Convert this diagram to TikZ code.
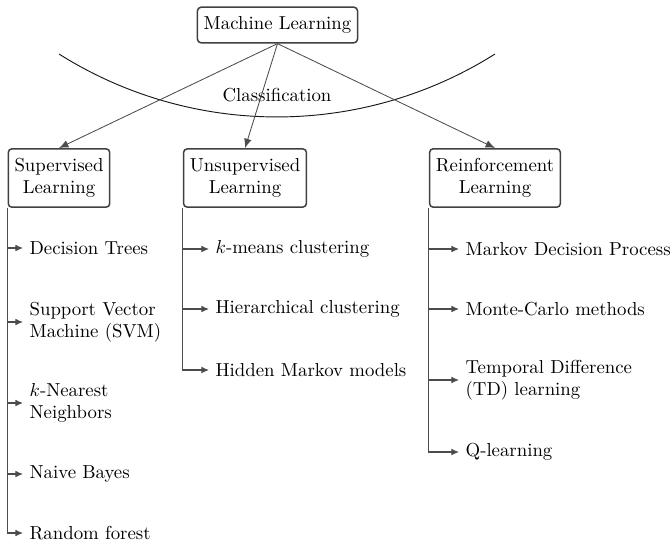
\documentclass[tikz,border=0pt]{standalone}
\usetikzlibrary{arrows.meta}
\begin{document}
\begin{tikzpicture}[x=0.532pt,y=-0.532pt,
  box/.style={draw=black!75, thick, rounded corners=2pt, align=center, inner xsep=3.33pt, inner ysep=5pt},
  leaf/.style={anchor=west, align=left, inner sep=3.33pt},
  mainarrow/.style={draw=black!70, line width=0.45pt, -{Latex[length=5pt,width=4pt]}},
  subarrow/.style={draw=black!70, line width=0.55pt, -{Latex[length=4pt,width=3.5pt]}},
  arcline/.style={draw=black!90, line width=0.5pt}
]
\clip (0,0) rectangle (670,543);
% top node and category boxes
\node[box] (ml) at (277.5,25) {Machine Learning};
\node[box] (sup) at (59,178) {Supervised\\Learning};
\node[box] (uns) at (245,178) {Unsupervised\\Learning};
\node[box] (rei) at (495,178) {Reinforcement\\Learning};
% classification arc
\coordinate (arcL) at (59,54);
\coordinate (arcR) at (495,54);
\draw[arcline] (arcL) .. controls (192.1,137.9) and (361.9,137.9) .. (arcR);
\node (cls) at (277,95) {Classification};
% main connectors
\draw[mainarrow] (ml.south) -- (sup.north);
\draw[mainarrow] (ml.south) -- (uns.north);
\draw[mainarrow] (ml.south) -- (rei.north);
% supervised leaves
\node[leaf] (s1) at (23,248) {Decision Trees};
\node[leaf] (s2) at (23,322) {Support Vector\\Machine (SVM)};
\node[leaf] (s3) at (23,403) {$k$-Nearest\\Neighbors};
\node[leaf] (s4) at (23,474) {Naive Bayes};
\node[leaf] (s5) at (23,533) {Random forest};
% unsupervised leaves
\node[leaf] (u1) at (209,249) {$k$-means clustering};
\node[leaf] (u2) at (209,309) {Hierarchical clustering};
\node[leaf] (u3) at (209,370) {Hidden Markov models};
% reinforcement leaves
\node[leaf] (r1) at (459,249) {Markov Decision Process};
\node[leaf] (r2) at (459,309) {Monte-Carlo methods};
\node[leaf] (r3) at (459,380) {Temporal Difference\\(TD) learning};
\node[leaf] (r4) at (459,452) {Q-learning};
% leaf connectors
\foreach \c in {s1,s2,s3,s4,s5} \draw[subarrow] (sup.south west) |- (\c.west);
\foreach \c in {u1,u2,u3} \draw[subarrow] (uns.south west) |- (\c.west);
\foreach \c in {r1,r2,r3,r4} \draw[subarrow] (rei.south west) |- (\c.west);
\end{tikzpicture}
\end{document}
